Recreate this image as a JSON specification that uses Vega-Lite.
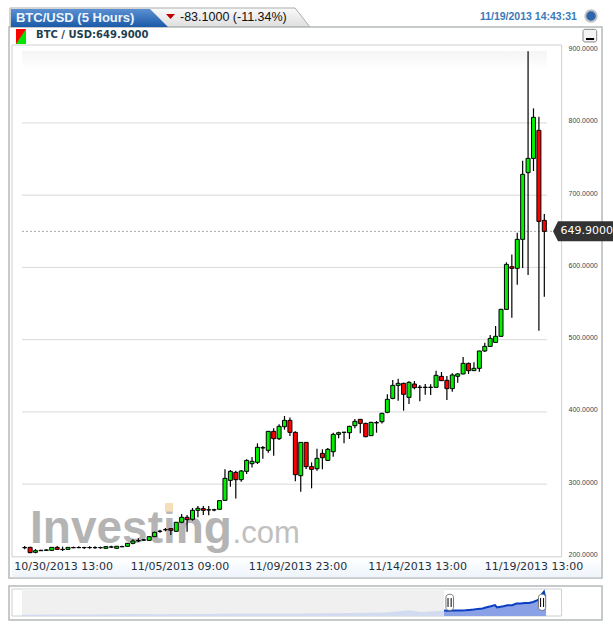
{"$schema":"https://vega.github.io/schema/vega-lite/v6.json","padding":0,"spacing":6,"background":"white","config":{"view":{"stroke":null},"axis":{"title":null},"font":"Liberation Sans"},
"datasets":{"candles":[
{"i":0,"o":212,"h":214.4,"l":209.8,"c":212.3},{"i":1,"o":212.5,"h":213.5,"l":204.2,"c":205.2},{"i":2,"o":205.6,"h":210.2,"l":204.2,"c":207.9},{"i":3,"o":207.9,"h":209.3,"l":207.5,"c":208.4},{"i":4,"o":208.4,"h":209.8,"l":207.9,"c":208.9},{"i":5,"o":208.4,"h":212.9,"l":208,"c":212.5},{"i":6,"o":212.5,"h":214.4,"l":208.9,"c":209.8},{"i":7,"o":209.8,"h":213.5,"l":207.5,"c":209.4},{"i":8,"o":209.8,"h":213,"l":209.4,"c":212.5},{"i":9,"o":212,"h":213.5,"l":211.2,"c":212.3},
{"i":10,"o":212.1,"h":214,"l":211.2,"c":212.3},{"i":11,"o":212.1,"h":213.5,"l":210.2,"c":212.3},{"i":12,"o":212.1,"h":214,"l":210.7,"c":212.3},{"i":13,"o":212,"h":214,"l":210.7,"c":212.2},{"i":14,"o":212,"h":213.5,"l":210.7,"c":212.2},{"i":15,"o":211.2,"h":214,"l":210.8,"c":213.5},{"i":16,"o":212.9,"h":214.9,"l":211.6,"c":213.1},{"i":17,"o":211.2,"h":214.5,"l":211,"c":214},{"i":18,"o":213.4,"h":214.9,"l":212.5,"c":213.6},{"i":19,"o":214,"h":218.5,"l":213.8,"c":218.1},
{"i":20,"o":218.1,"h":223.6,"l":216.7,"c":221.3},{"i":21,"o":221.5,"h":225,"l":219.9,"c":222},{"i":22,"o":222.6,"h":224.1,"l":221.3,"c":222.9},{"i":23,"o":222.2,"h":227.8,"l":221.9,"c":227.3},{"i":24,"o":227.3,"h":234,"l":227,"c":233.3},{"i":25,"o":234.6,"h":237,"l":232.8,"c":234.9},{"i":26,"o":236.9,"h":239.3,"l":234.7,"c":237.1},{"i":27,"o":238.4,"h":239.3,"l":229.6,"c":236.1},{"i":28,"o":234.7,"h":247.7,"l":234.2,"c":247.2},{"i":29,"o":247.2,"h":258.7,"l":245.8,"c":254.1},
{"i":30,"o":254.1,"h":257.3,"l":234.2,"c":250.8},{"i":31,"o":251.3,"h":267,"l":249.5,"c":263.8},{"i":32,"o":263.8,"h":269.8,"l":254.1,"c":266.6},{"i":33,"o":266.1,"h":269.8,"l":257.4,"c":263.8},{"i":34,"o":264.2,"h":269.8,"l":256.9,"c":264.5},{"i":35,"o":264.2,"h":266.1,"l":262.4,"c":264.5},{"i":36,"o":265.2,"h":277.6,"l":264.8,"c":277.2},{"i":37,"o":277.6,"h":320.5,"l":277.2,"c":308},{"i":38,"o":305.2,"h":319.5,"l":296.5,"c":317.7},{"i":39,"o":316.3,"h":318.6,"l":280.3,"c":306.2},
{"i":40,"o":306.2,"h":319.5,"l":303.4,"c":318.2},{"i":41,"o":317.7,"h":334.3,"l":314,"c":332.9},{"i":42,"o":328.3,"h":337.5,"l":323.2,"c":331.6},{"i":43,"o":330.2,"h":356.5,"l":327.9,"c":351},{"i":44,"o":350,"h":352.8,"l":335.2,"c":350.6},{"i":45,"o":346.8,"h":373.5,"l":343.5,"c":373.1},{"i":46,"o":373.1,"h":377.2,"l":339.4,"c":362.9},{"i":47,"o":362.9,"h":382.8,"l":361.1,"c":380},{"i":48,"o":379.5,"h":394.3,"l":375.4,"c":388.3},{"i":49,"o":388.3,"h":392.4,"l":366.6,"c":371.7},
{"i":50,"o":371.7,"h":373.1,"l":303.9,"c":313.1},{"i":51,"o":311.7,"h":358.2,"l":289.6,"c":357.8},{"i":52,"o":357.8,"h":358.2,"l":321,"c":324.2},{"i":53,"o":324.2,"h":330.2,"l":294.2,"c":320.5},{"i":54,"o":321.4,"h":349.1,"l":318.6,"c":335.7},{"i":55,"o":342.6,"h":348.2,"l":320.5,"c":336.6},{"i":56,"o":332.9,"h":350,"l":332.5,"c":348.2},{"i":57,"o":344.9,"h":371.2,"l":338,"c":368.9},{"i":58,"o":368.9,"h":372.6,"l":363.4,"c":371.2},{"i":59,"o":371.6,"h":372.2,"l":356.5,"c":371.9},
{"i":60,"o":371.2,"h":380.9,"l":362.5,"c":380},{"i":61,"o":380.9,"h":390.1,"l":377.2,"c":386.9},{"i":62,"o":389.7,"h":390,"l":370.3,"c":384.1},{"i":63,"o":384.1,"h":385,"l":364.8,"c":365.7},{"i":64,"o":367.1,"h":386.4,"l":366.6,"c":385.5},{"i":65,"o":384.8,"h":387.4,"l":371.2,"c":385.2},{"i":66,"o":386.4,"h":398.9,"l":384.1,"c":398},{"i":67,"o":399.4,"h":424.3,"l":398,"c":417.4},{"i":68,"o":418.7,"h":444.1,"l":417.4,"c":436.7},{"i":69,"o":436.7,"h":446,"l":415.5,"c":439.5},
{"i":70,"o":439.5,"h":440.4,"l":401.7,"c":424.3},{"i":71,"o":420.1,"h":442.3,"l":410.9,"c":440.9},{"i":72,"o":438.6,"h":442.7,"l":431.2,"c":433.5},{"i":73,"o":433.8,"h":437.2,"l":414.6,"c":434.2},{"i":74,"o":433.8,"h":438.6,"l":423.8,"c":434.2},{"i":75,"o":433.8,"h":438.1,"l":423.4,"c":434.2},{"i":76,"o":434,"h":457,"l":433.6,"c":450.6},{"i":77,"o":449.2,"h":455.2,"l":442.7,"c":443.2},{"i":78,"o":443.7,"h":449.7,"l":416.5,"c":432.2},{"i":79,"o":432.2,"h":453.4,"l":428,"c":451.1},
{"i":80,"o":449.3,"h":453.4,"l":440.5,"c":452.5},{"i":81,"o":452.5,"h":476,"l":452.2,"c":467.2},{"i":82,"o":467.2,"h":468.2,"l":452.5,"c":457.1},{"i":83,"o":457.1,"h":468.6,"l":456.6,"c":460.3},{"i":84,"o":460.3,"h":484.8,"l":455.7,"c":484.3},{"i":85,"o":484.3,"h":495.8,"l":482.9,"c":490.7},{"i":86,"o":490.7,"h":506.4,"l":489.8,"c":501.8},{"i":87,"o":496.2,"h":518.9,"l":495.8,"c":504.6},{"i":88,"o":504.6,"h":542.8,"l":504.2,"c":541.9},{"i":89,"o":541.9,"h":607,"l":541.5,"c":604.2},
{"i":90,"o":601,"h":618,"l":530.4,"c":598.7},{"i":91,"o":598.7,"h":648,"l":576.1,"c":638.8},{"i":92,"o":638.8,"h":747.7,"l":599.1,"c":728.8},{"i":93,"o":731.1,"h":899,"l":589.4,"c":750.9},{"i":94,"o":750.9,"h":820.1,"l":733.4,"c":807.7},{"i":95,"o":789.7,"h":808.6,"l":512.4,"c":663.7},{"i":96,"o":665.1,"h":673.9,"l":559.5,"c":649.9}],
"grid":[{"v":300},{"v":400},{"v":500},{"v":600},{"v":700},{"v":800}],
"history":[{"n":0,"v":80},{"n":7.3,"v":86},{"n":15,"v":93},{"n":20.7,"v":105},{"n":26.4,"v":99},{"n":34,"v":105},{"n":43.7,"v":118},{"n":53.3,"v":124},{"n":62.8,"v":137},{"n":69.5,"v":150},{"n":74.3,"v":222},{"n":76.2,"v":168},{"n":80.84,"v":205}],
"recent":[{"n":80.84,"v":212},{"n":81.65,"v":209},{"n":82.47,"v":212.5},{"n":83.28,"v":212},{"n":84.1,"v":213},{"n":84.9,"v":221},{"n":85.7,"v":233},{"n":86.5,"v":247},{"n":87.35,"v":267},{"n":88.2,"v":277},{"n":89,"v":318},{"n":89.8,"v":350},{"n":90.6,"v":388},{"n":91,"v":313},{"n":91.4,"v":324},{"n":92.2,"v":348},{"n":93,"v":380},{"n":93.9,"v":385},{"n":94.7,"v":437},{"n":95.5,"v":434},{"n":96.3,"v":451},{"n":97.1,"v":452},{"n":97.9,"v":484},{"n":98.75,"v":542},{"n":99.15,"v":599},{"n":99.56,"v":729},{"n":99.97,"v":808},{"n":100.17,"v":664},{"n":100.38,"v":650}]},
"vconcat":[
{"width":613,"height":578,"layer":[
{"data":{"values":[{}]},"layer":[
{"mark":{"type":"point","filled":true,"opacity":1,"shape":"M-1,-0.0633L0.9,-0.0633L1,0.0633L-1,0.0633Z","size":90000,"fill":{"x1":0,"y1":0,"x2":0,"y2":1,"gradient":"linear","stops":[{"offset":0,"color":"#fafafa"},{"offset":1,"color":"#dedede"}]},"stroke":"#a9adad","strokeWidth":1},"encoding":{"x":{"datum":25,"type":"quantitative"},"y":{"datum":945.9,"type":"quantitative"}}},
{"mark":{"type":"rect","fill":"white","stroke":"#b5b9b9","strokeWidth":1.5},"encoding":{"x":{"datum":-2.9,"type":"quantitative"},"x2":{"datum":106.66},"y":{"datum":932.7,"type":"quantitative"},"y2":{"datum":170.1}}},
{"mark":{"type":"rect","fill":{"x1":0,"y1":0,"x2":0,"y2":1,"gradient":"linear","stops":[{"offset":0,"color":"#ffffff"},{"offset":1,"color":"#edf4fb"}]}},"encoding":{"x":{"datum":-2.35,"type":"quantitative"},"x2":{"datum":106.4},"y":{"datum":197.8,"type":"quantitative"},"y2":{"datum":171}}},
{"mark":{"type":"rect","fill":"white","stroke":"#cfcfcf","strokeWidth":1},"encoding":{"x":{"datum":-2.35,"type":"quantitative"},"x2":{"datum":99.2},"y":{"datum":907.8,"type":"quantitative"},"y2":{"datum":199.4}}},
{"mark":{"type":"rect","fill":{"x1":0,"y1":0,"x2":0,"y2":1,"gradient":"linear","stops":[{"offset":0,"color":"#f5f5f5"},{"offset":1,"color":"#ffffff"}]}},"encoding":{"x":{"datum":-0.5,"type":"quantitative"},"x2":{"datum":96.5},"y":{"datum":899.5,"type":"quantitative"},"y2":{"datum":873.2}}},
{"mark":{"type":"point","filled":true,"opacity":1,"shape":"M-1,-0.1146L0.771,-0.1146L1,0.1146L-1,0.1146Z","size":24649,"fill":{"x1":0,"y1":0,"x2":0,"y2":1,"gradient":"linear","stops":[{"offset":0,"color":"#5b90d2"},{"offset":1,"color":"#1a5aa8"}]}},"encoding":{"x":{"datum":11.97,"type":"quantitative"},"y":{"datum":945.2,"type":"quantitative"}}},
{"mark":{"type":"text","text":"BTC/USD (5 Hours)","align":"left","baseline":"middle","fontSize":13,"fontWeight":"bold","color":"#eef4fb"},"encoding":{"x":{"datum":-1.61,"type":"quantitative"},"y":{"datum":945.2,"type":"quantitative"}}},
{"mark":{"type":"point","filled":true,"opacity":1,"shape":"M-1,-0.55L1,-0.55L0,0.55Z","size":81,"fill":"#c00000"},"encoding":{"x":{"datum":26.94,"type":"quantitative"},"y":{"datum":947.3,"type":"quantitative"}}},
{"mark":{"type":"text","text":"-83.1000 (-11.34%)","align":"left","baseline":"middle","fontSize":12.5,"color":"#111111"},"encoding":{"x":{"datum":28.69,"type":"quantitative"},"y":{"datum":945.9,"type":"quantitative"}}},
{"mark":{"type":"text","text":"11/19/2013 14:43:31","align":"left","baseline":"middle","fontSize":10.5,"fontWeight":"bold","color":"#3a7ab8"},"encoding":{"x":{"datum":84.1,"type":"quantitative"},"y":{"datum":946.6,"type":"quantitative"}}},
{"mark":{"type":"point","filled":true,"opacity":1,"shape":"circle","size":130,"fill":"#2f66ab","stroke":"#c0c0c0","strokeWidth":2},"encoding":{"x":{"datum":104.63,"type":"quantitative"},"y":{"datum":948,"type":"quantitative"}}},
{"mark":{"type":"rect","fill":"#00e600"},"encoding":{"x":{"datum":-1.61,"type":"quantitative"},"x2":{"datum":0.24},"y":{"datum":929.5,"type":"quantitative"},"y2":{"datum":909.2}}},
{"mark":{"type":"point","filled":true,"opacity":1,"shape":"M-0.667,-1L0.667,-1L-0.667,1Z","size":225,"fill":"#ff0000"},"encoding":{"x":{"datum":-0.68,"type":"quantitative"},"y":{"datum":919.6,"type":"quantitative"}}},
{"mark":{"type":"text","text":"BTC / USD:649.9000","align":"left","baseline":"middle","font":"DejaVu Sans","fontSize":10,"fontWeight":"bold","color":"#1f3f4f"},"encoding":{"x":{"datum":2.09,"type":"quantitative"},"y":{"datum":921,"type":"quantitative"}}},
{"mark":{"type":"rect","fill":"#f4f4f4","stroke":"#8a8a8a","cornerRadius":2},"encoding":{"x":{"datum":103.15,"type":"quantitative"},"x2":{"datum":105.68},"y":{"datum":929.5,"type":"quantitative"},"y2":{"datum":912}}},
{"mark":{"type":"rect","fill":"#000000"},"encoding":{"x":{"datum":103.7,"type":"quantitative"},"x2":{"datum":105.2},"y":{"datum":917.5,"type":"quantitative"},"y2":{"datum":914.7}}},
{"mark":{"type":"text","text":"Investing","align":"left","baseline":"alphabetic","fontSize":46,"fontWeight":"bold","color":"#b4b4b4"},"encoding":{"x":{"datum":0.98,"type":"quantitative"},"y":{"datum":218.1,"type":"quantitative"}}},
{"mark":{"type":"rect","fill":"#f5dfb8"},"encoding":{"x":{"datum":25.92,"type":"quantitative"},"x2":{"datum":27.4},"y":{"datum":273.9,"type":"quantitative"},"y2":{"datum":262}}},
{"mark":{"type":"text","text":".com","align":"left","baseline":"alphabetic","fontSize":31,"color":"#c0c0c0"},"encoding":{"x":{"datum":38.4,"type":"quantitative"},"y":{"datum":218.5,"type":"quantitative"}}}
]},
{"data":{"name":"grid"},"mark":{"type":"rule","color":"#d9d9d9","strokeWidth":1},"encoding":{"x":{"datum":-0.5,"type":"quantitative"},"x2":{"datum":96.5},"y":{"field":"v","type":"quantitative"}}},
{"data":{"values":[{"last":649.9}]},"mark":{"type":"rule","color":"#a8a8a8","strokeWidth":1,"strokeDash":[2,2]},"encoding":{"x":{"datum":-0.5,"type":"quantitative"},"x2":{"datum":97.6},"y":{"field":"last","type":"quantitative"}}},
{"data":{"name":"candles"},"mark":{"type":"rule","color":"#000000","strokeWidth":1.2},"encoding":{"x":{"field":"i","type":"quantitative"},"y":{"field":"l","type":"quantitative"},"y2":{"field":"h"}}},
{"data":{"name":"candles"},"mark":{"type":"bar","size":4,"stroke":"#000000","strokeWidth":1},"encoding":{
"x":{"field":"i","type":"quantitative","scale":{"domain":[-4.563,108.69],"nice":false,"zero":false,"padding":0},"axis":{"title":null,"values":[7.1,28.6,50.4,72.5,94],"labelExpr":"{'7.1':'10/30/2013 13:00','28.6':'11/05/2013 09:00','50.4':'11/09/2013 23:00','72.5':'11/14/2013 13:00','94':'11/19/2013 13:00'}[datum.value]","domain":false,"ticks":false,"grid":false,"labelPadding":-18,"labelBaseline":"top","labelFont":"DejaVu Sans","labelFontSize":11,"labelColor":"#1f3040","labelOverlap":false,"labelFlush":false,"zindex":1}},
"y":{"field":"o","type":"quantitative","scale":{"domain":[170.1,970.1],"nice":false,"zero":false,"padding":0},"axis":{"title":null,"orient":"right","values":[200,300,400,500,600,700,800,900],"format":".4f","domain":false,"ticks":false,"grid":false,"labelPadding":-45,"labelAlign":"left","labelOffset":-2,"labelFont":"Liberation Sans","labelFontSize":7,"labelColor":"#2c4a58","labelOverlap":false,"labelFlush":false,"zindex":1}},
"y2":{"field":"c"},
"fill":{"condition":{"test":"datum.c>=datum.o","value":"#00f000"},"value":"#ff0000"}}},
{"data":{"values":[{}]},"layer":[
{"mark":{"type":"point","filled":true,"opacity":1,"shape":"M-1,0L-0.833,-0.333L1,-0.333L1,0.333L-0.833,0.333Z","size":3600,"fill":"#333333"},"encoding":{"x":{"datum":103.15,"type":"quantitative"},"y":{"datum":649.9,"type":"quantitative"}}},
{"mark":{"type":"text","text":"649.9000","align":"left","baseline":"middle","font":"DejaVu Sans","fontSize":11,"color":"#ffffff"},"encoding":{"x":{"datum":99.0,"type":"quantitative"},"y":{"datum":651,"type":"quantitative"}}}
]}
]},
{"width":613,"height":43,"layer":[
{"data":{"values":[{}]},"layer":[
{"mark":{"type":"rect","fill":"white","stroke":"#b5b9b9","strokeWidth":1.5},"encoding":{"x":{"datum":-2.49,"type":"quantitative"},"x2":{"datum":111.1},"y":{"datum":990,"type":"quantitative"},"y2":{"datum":-84.4}}},
{"mark":{"type":"rect","fill":"white","stroke":"#cfcfcf","strokeWidth":1},"encoding":{"x":{"datum":-1.92,"type":"quantitative"},"x2":{"datum":103.35},"y":{"datum":895.2,"type":"quantitative"},"y2":{"datum":42}}},
{"mark":{"type":"rect","fill":"#f0f0f0"},"encoding":{"x":{"datum":0,"type":"quantitative"},"x2":{"datum":80.84},"y":{"datum":895.2,"type":"quantitative"},"y2":{"datum":42}}}
]},
{"data":{"name":"history"},"mark":{"type":"area","color":"#d3dbf0"},"encoding":{"x":{"field":"n","type":"quantitative"},"y":{"field":"v","type":"quantitative"},"y2":{"datum":42}}},
{"data":{"name":"recent"},"mark":{"type":"area","color":"#8aa1e6"},"encoding":{"x":{"field":"n","type":"quantitative"},"y":{"field":"v","type":"quantitative"},"y2":{"datum":42}}},
{"data":{"name":"recent"},"mark":{"type":"line","color":"#0a3fc4","strokeWidth":2},"encoding":{"x":{"field":"n","type":"quantitative","scale":{"domain":[-4.215,113.2],"nice":false,"zero":false},"axis":null},"y":{"field":"v","type":"quantitative","scale":{"domain":[-368.8,990],"nice":false,"zero":false},"axis":null}}},
{"data":{"values":[{}]},"layer":[
{"mark":{"type":"rect","fill":"white","stroke":"#777777","cornerRadius":3},"encoding":{"x":{"datum":81.2,"type":"quantitative"},"x2":{"datum":82.65},"y":{"datum":727.7,"type":"quantitative"},"y2":{"datum":222}}},
{"mark":{"type":"rect","fill":"white","stroke":"#777777","cornerRadius":3},"encoding":{"x":{"datum":98.93,"type":"quantitative"},"x2":{"datum":100.3},"y":{"datum":727.7,"type":"quantitative"},"y2":{"datum":222}}},
{"mark":{"type":"rule","color":"#000000"},"encoding":{"x":{"datum":81.6,"type":"quantitative"},"y":{"datum":611,"type":"quantitative"},"y2":{"datum":326}}},
{"mark":{"type":"rule","color":"#000000"},"encoding":{"x":{"datum":82.2,"type":"quantitative"},"y":{"datum":611,"type":"quantitative"},"y2":{"datum":326}}},
{"mark":{"type":"rule","color":"#000000"},"encoding":{"x":{"datum":99.33,"type":"quantitative"},"y":{"datum":611,"type":"quantitative"},"y2":{"datum":326}}},
{"mark":{"type":"rule","color":"#000000"},"encoding":{"x":{"datum":99.9,"type":"quantitative"},"y":{"datum":611,"type":"quantitative"},"y2":{"datum":326}}}
]}
]}
]}
